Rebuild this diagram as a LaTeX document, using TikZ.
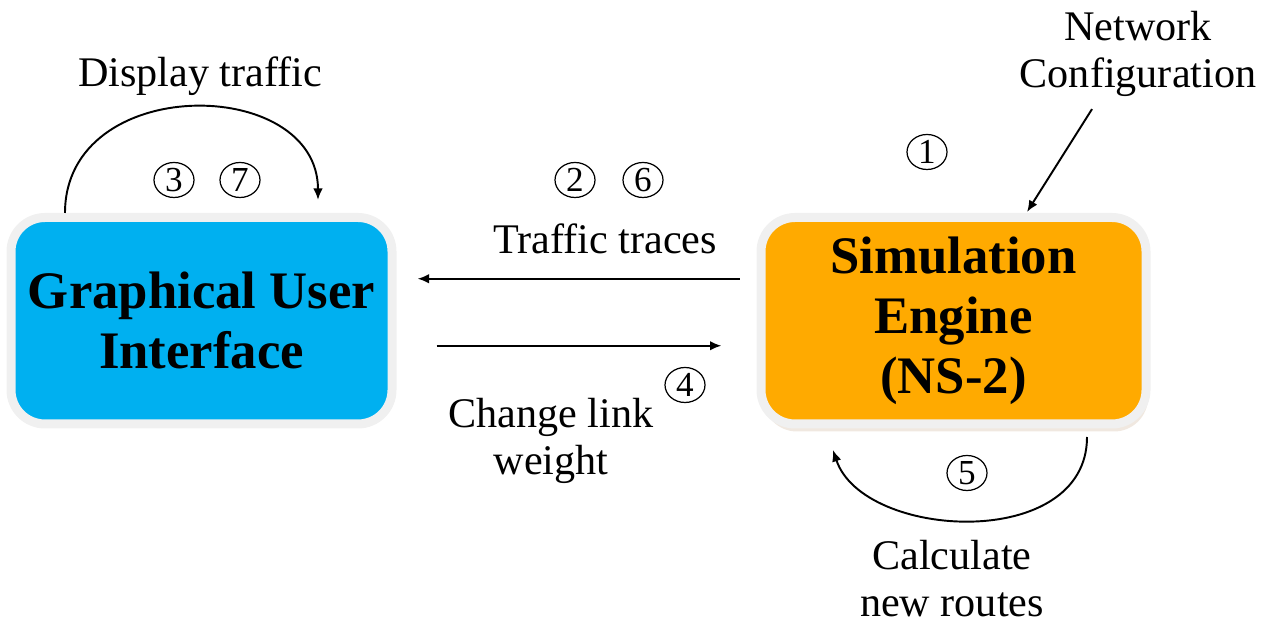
\documentclass[tikz,border=0pt]{standalone}
\usepackage{fontspec}
\setmainfont{Liberation Serif}
\usetikzlibrary{arrows.meta,positioning,shapes.geometric,shadows}
\definecolor{guiblue}{RGB}{0,176,240}
\definecolor{simorange}{RGB}{255,170,0}
\definecolor{rimgray}{RGB}{240,240,240}

\begin{document}
\begin{tikzpicture}[
  box/.style={draw=rimgray,line width=0.18cm,rounded corners=0.68cm,minimum height=4.13cm,inner sep=0pt,align=center,font=\fontsize{30}{34}\selectfont\bfseries},
  num/.style={draw,ellipse,line width=0.7pt,inner sep=0pt,minimum width=0.8cm,minimum height=0.7cm,font=\fontsize{20}{20}\selectfont},
  lbl/.style={align=center,font=\fontsize{24}{27}\selectfont},
  arr/.style={-{Latex[length=2.3mm,width=1.9mm]},line width=1.1pt}]
  \useasboundingbox (0,0) rectangle (25.24,12.48);
  % the two blocks
  \node[box,fill=guiblue,minimum width=7.62cm] (gui) at (4.03,6.065) {Graphical User\\Interface};
  \node[box,fill=simorange,minimum width=7.7cm,drop shadow={shadow xshift=0.04cm,shadow yshift=-0.15cm,opacity=0.18,fill=brown!70!gray}] (engine) at (19.07,6.065) {Simulation\\Engine\\(NS-2)};
  % step numbers
  \node[num] (c1) at (18.54,9.44) {1};
  \node[num] (c2) at (11.5,8.88) {2};
  \node[num] (c6) at (12.86,8.88) {6};
  \node[num] (c3) at (3.48,8.88) {3};
  \node[num] (c7) at (4.8,8.88) {7};
  \node[num] (c4) at (13.7,4.78) {4};
  \node[num] (c5) at (19.34,3.02) {5};
  % labels
  \node[lbl] (netcfg) at (22.76,11.4) {Network\\Configuration};
  \node[lbl] (disp) at (4.0,10.96) {Display traffic};
  \node[lbl] (traces) at (12.1,7.71) {Traffic traces};
  \node[lbl] (chg) at (11.02,3.66) {Change link\\weight};
  \node[lbl] (calc) at (19.04,0.91) {Calculate\\new routes};
  % connectors
  \draw[arr] ([xshift=-0.92cm,yshift=-0.12cm]netcfg.south) -- ([xshift=1.47cm,yshift=0.02cm]engine.north);
  \draw[arr,shorten <=0.34cm,shorten >=0.42cm] ([yshift=0.84cm]engine.west) -- ([yshift=0.84cm]gui.east);
  \draw[arr,shorten <=0.8cm,shorten >=0.7cm] ([yshift=-0.5cm]gui.east) -- ([yshift=-0.5cm]engine.west);
  \draw[arr] ([xshift=-2.73cm]gui.north) .. controls +(0,2.8) and +(0,2.5) .. ([xshift=2.33cm,yshift=0.26cm]gui.north);
  \draw[arr] ([xshift=2.67cm,yshift=-0.17cm]engine.south) .. controls +(0,-2.3) and +(0.6,-1.8) .. ([xshift=-2.41cm,yshift=-0.43cm]engine.south);
\end{tikzpicture}
\end{document}
